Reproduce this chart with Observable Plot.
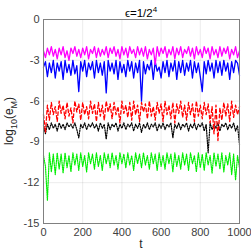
<!DOCTYPE html>
<html><head><meta charset="utf-8">
<script src="https://cdn.jsdelivr.net/npm/d3@7"></script>
<script src="https://cdn.jsdelivr.net/npm/@observablehq/plot@0.6"></script>
<style>body{margin:0;background:#fff} svg{font-family:"Liberation Sans",Arial,sans-serif}</style>
</head><body><div id="chart"></div>
<script>
const tValues = [0,10,20,30,40,50,60,70,80,90,100,110,120,130,140,150,160,170,180,190,200,210,220,230,240,250,260,270,280,290,300,310,320,330,340,350,360,370,380,390,400,410,420,430,440,450,460,470,480,490,500,510,520,530,540,550,560,570,580,590,600,610,620,630,640,650,660,670,680,690,700,710,720,730,740,750,760,770,780,790,800,810,820,830,840,850,860,870,880,890,900,910,920,930,940,950,960,970,980,990,1000];
const magenta = [-2.3,-2.8,-2.1,-2.6,-2.0,-2.7,-2.2,-2.9,-2.1,-2.6,
 -2.0,-2.8,-2.3,-3.0,-2.1,-2.5,-2.0,-2.7,-2.2,-2.8,
 -2.1,-2.6,-2.0,-2.9,-2.2,-2.5,-2.0,-2.8,-2.1,-2.7,
 -2.2,-2.6,-2.0,-2.8,-2.1,-2.5,-2.0,-2.7,-2.2,-2.9,
 -2.0,-2.6,-2.1,-2.8,-2.0,-2.5,-2.2,-2.8,-2.0,-2.6,
 -2.1,-2.7,-2.0,-2.9,-2.2,-2.6,-2.1,-3.3,-2.0,-2.7,
 -2.1,-2.5,-2.0,-2.8,-2.2,-2.6,-2.0,-2.9,-2.1,-2.6,
 -2.0,-2.8,-2.2,-2.5,-2.0,-2.7,-2.1,-2.9,-2.0,-2.6,
 -2.2,-2.8,-2.0,-2.5,-2.1,-2.9,-2.0,-2.6,-2.2,-2.8,
 -2.0,-2.7,-2.1,-2.5,-2.0,-2.9,-2.2,-2.6,-2.0,-2.8,-2.3];
const blue = [-3.5,-3.1,-4.2,-3.2,-3.9,-3.0,-4.3,-3.2,-3.8,-3.1,
 -4.4,-3.0,-3.9,-3.3,-4.1,-3.0,-4.0,-3.4,-5.3,-3.1,
 -3.8,-3.0,-4.2,-3.2,-3.7,-3.1,-4.3,-3.0,-3.9,-3.2,
 -4.1,-3.1,-5.4,-3.0,-3.8,-3.2,-4.0,-3.0,-4.4,-3.1,
 -3.9,-3.3,-4.2,-3.0,-3.8,-3.1,-4.3,-3.2,-3.9,-3.0,
 -6.0,-3.1,-4.0,-3.3,-3.7,-3.0,-4.4,-3.1,-3.8,-3.5,
 -4.3,-3.1,-3.9,-3.0,-4.2,-3.2,-3.8,-3.0,-4.4,-3.1,
 -3.9,-3.0,-4.1,-3.2,-3.8,-3.0,-4.3,-3.1,-3.9,-3.2,
 -4.2,-5.3,-3.1,-4.0,-3.0,-3.8,-3.2,-4.3,-3.0,-3.9,
 -3.1,-4.1,-3.0,-3.8,-3.2,-4.4,-3.1,-3.9,-3.0,-3.2,
 -4.1];
const red = [-7.0,-8.3,-6.3,-7.4,-6.1,-7.0,-6.4,-7.5,-6.0,-6.9,
 -6.3,-7.3,-6.1,-7.1,-6.5,-7.6,-6.0,-6.8,-6.2,-7.4,
 -6.1,-7.0,-6.4,-7.3,-6.0,-6.9,-6.2,-7.5,-6.1,-7.1,
 -6.3,-7.4,-6.0,-6.8,-6.2,-7.3,-6.1,-7.0,-6.4,-7.6,
 -6.0,-6.9,-6.3,-7.2,-6.1,-7.4,-6.0,-7.0,-6.3,-7.5,
 -6.1,-6.8,-6.2,-7.3,-6.0,-7.1,-6.4,-7.4,-6.1,-6.9,
 -6.2,-7.5,-6.0,-7.0,-6.3,-7.3,-6.1,-7.6,-6.2,-6.9,
 -6.0,-7.2,-6.3,-7.4,-6.1,-7.0,-6.2,-7.5,-6.0,-7.1,
 -6.3,-7.3,-6.1,-7.0,-6.2,-7.6,-6.4,-8.4,-6.3,-8.9,
 -6.5,-7.4,-6.1,-7.1,-6.2,-7.5,-6.0,-7.2,-6.3,-7.0,
 -6.4];
const black = [-7.8,-8.4,-7.7,-8.1,-7.6,-8.0,-7.7,-8.2,-7.6,-8.0,
 -7.7,-8.1,-7.6,-7.9,-7.7,-8.0,-7.6,-8.1,-8.7,-7.7,
 -8.0,-7.6,-8.1,-7.7,-7.9,-7.6,-8.0,-7.7,-8.2,-7.6,
 -8.0,-7.7,-8.8,-7.6,-8.1,-7.7,-7.9,-7.6,-8.2,-7.7,
 -8.0,-7.6,-8.1,-7.7,-7.9,-7.6,-8.2,-7.7,-8.0,-7.6,
 -8.3,-7.7,-8.0,-7.6,-8.1,-7.7,-7.9,-7.6,-8.2,-7.7,
 -8.0,-7.6,-8.1,-7.7,-7.9,-7.6,-8.7,-7.7,-8.0,-7.6,
 -8.1,-7.7,-7.9,-7.6,-8.2,-7.7,-8.0,-7.6,-8.1,-7.7,
 -7.9,-7.6,-8.2,-7.7,-9.8,-7.6,-8.1,-7.7,-8.0,-7.6,
 -8.2,-7.7,-7.9,-7.6,-8.1,-7.7,-8.0,-7.6,-8.2,-7.8,
 -9.2];
const green = [-10.0,-10.8,-13.3,-9.8,-11.2,-9.9,-11.4,-9.8,-11.0,-9.9,
 -11.3,-9.8,-10.9,-10.0,-11.2,-9.8,-10.7,-9.9,-11.1,-9.8,
 -10.8,-10.0,-11.2,-9.8,-10.6,-9.9,-11.0,-9.8,-10.8,-10.0,
 -11.1,-9.8,-10.6,-9.9,-10.9,-9.8,-10.7,-10.0,-11.0,-9.8,
 -10.6,-9.9,-10.9,-9.8,-10.7,-10.0,-11.1,-9.8,-10.6,-9.9,
 -10.9,-9.8,-10.7,-10.0,-11.0,-9.8,-10.6,-9.9,-11.1,-9.8,
 -10.8,-10.0,-11.0,-9.8,-10.6,-9.9,-11.2,-9.8,-10.8,-10.0,
 -11.0,-9.8,-10.7,-9.9,-11.1,-9.8,-10.6,-10.0,-11.2,-9.8,
 -10.9,-9.9,-11.1,-9.8,-10.7,-10.0,-11.3,-9.8,-10.8,-9.9,
 -11.0,-9.8,-11.2,-10.0,-10.7,-9.8,-11.4,-9.9,-11.8,-10.0,
 -10.9];
const xTicks = [0,200,400,600,800,1000];
const yTicks = [-15,-12,-9,-6,-3,0];

const series = [
  {name:"black", values:black, color:"#000000", dash:"1.2,1.3", w:1.2},
  {name:"green", values:green, color:"#00ee00", dash:"1.2,1.1", w:1.2},
  {name:"red", values:red, color:"#ff0000", dash:"3.5,2.5", w:1.3},
  {name:"blue", values:blue, color:"#0000ff", dash:null, w:1.3},
  {name:"magenta", values:magenta, color:"#ff00ff", dash:null, w:1.3}
];

const lineMarks = series.map(s => Plot.line(s.values.map((v,i)=>({t:tValues[i], v})), {
  x:"t", y:"v", stroke:s.color, strokeWidth:s.w, strokeDasharray:s.dash, curve:"linear"
}));

const svg = Plot.plot({
  width:251, height:251,
  marginTop:19, marginBottom:28, marginLeft:43, marginRight:12,
  style:{fontSize:"11px", fontFamily:"'Liberation Sans', Arial, sans-serif", color:"#404040", background:"white"},
  x:{domain:[0,1000], ticks:xTicks, tickSize:0, tickPadding:5, label:null, grid:true, tickFormat:d=>String(d)},
  y:{domain:[-15,0], ticks:yTicks, tickSize:0, tickPadding:4, label:null, grid:true, tickFormat:d=>String(d)},
  marks:[
    ...lineMarks,
    Plot.frame({stroke:"#808080", strokeWidth:1})
  ]
});

const s = d3.select(svg);
const title = s.append("text").attr("x",141).attr("y",17).attr("text-anchor","middle")
  .attr("font-size","11.5px").attr("fill","#000");
title.append("tspan").text("ϵ=1/2");
title.append("tspan").attr("dy","-5").attr("font-size","8px").text("4");

const yl = s.append("text").attr("transform","translate(13,121) rotate(-90)").attr("text-anchor","middle")
  .attr("font-size","12px").attr("fill","#262626");
yl.append("tspan").text("log");
yl.append("tspan").attr("dy","4").attr("font-size","9px").text("10");
yl.append("tspan").attr("dy","-4").text("(e");
yl.append("tspan").attr("dy","4").attr("font-size","9px").text("M");
yl.append("tspan").attr("dy","-4").text(")");

s.append("text").attr("x",141).attr("y",248).attr("text-anchor","middle")
  .attr("font-size","12px").attr("fill","#262626").text("t");

document.getElementById("chart").appendChild(svg);
</script>
</body></html>
